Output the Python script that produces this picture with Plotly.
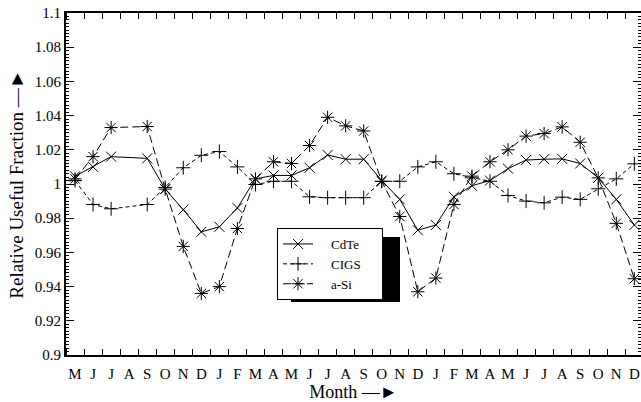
import plotly.graph_objects as go

months = ["M","J","J","A","S","O","N","D","J","F","M","A","M","J","J","A",
          "S","O","N","D","J","F","M","A","M","J","J","A","S","O","N","D"]
month_idx = list(range(len(months)))

cdte = [1.0045, 1.010, 1.016, None, 1.015, 0.997, 0.985, 0.972, 0.975, 0.986,
        1.003, 1.005, 1.005, 1.0095, 1.017, 1.0145, 1.0145, 1.002, 0.991, 0.973,
        0.976, 0.9925, 0.999, 1.002, 1.009, 1.014, 1.0145, 1.0147, 1.012, 1.0036,
        0.991, 0.976]
cigs = [1.002, 0.988, 0.9855, None, 0.988, 0.998, 1.0095, 1.0168, 1.019, 1.010,
        0.9997, 1.0016, 1.0016, 0.9925, 0.992, 0.992, 0.992, 1.0016, 1.0016, 1.010,
        1.013, 1.006, 1.0036, 1.0016, 0.9933, 0.990, 0.989, 0.9923, 0.991, 0.9972,
        1.003, 1.0118]
asi = [1.003, 1.016, 1.033, None, 1.0336, 0.997, 0.9635, 0.936, 0.940, 0.974,
       1.003, 1.013, 1.012, 1.0225, 1.039, 1.034, 1.031, 1.0015, 0.981, 0.937,
       0.945, 0.988, 1.0046, 1.013, 1.020, 1.028, 1.0295, 1.0334, 1.0244, 1.0036,
       0.977, 0.9446]

series_names = ["CdTe", "CIGS", "a-Si"]

ytickvals = [0.9, 0.92, 0.94, 0.96, 0.98, 1.0, 1.02, 1.04, 1.06, 1.08, 1.1]
yticktext = ["0.9", "0.92", "0.94", "0.96", "0.98", "1", "1.02", "1.04", "1.06", "1.08", "1.1"]

FONT = "Liberation Serif"
ARROW = " \u2014\u25BA"
PAD = "\u00a0" * 4

def lname(s):
    return PAD + s + PAD + "\u00a0"

fig = go.Figure()
fig.add_trace(go.Scatter(x=month_idx, y=cdte, name=lname(series_names[0]), mode="lines+markers",
                         connectgaps=True,
                         line=dict(color="black", width=1),
                         marker=dict(symbol="x-thin-open", size=10, color="black",
                                     line=dict(width=1, color="black"))))
fig.add_trace(go.Scatter(x=month_idx, y=cigs, name=lname(series_names[1]), mode="lines+markers",
                         connectgaps=True,
                         line=dict(color="black", width=1, dash="4px,3px"),
                         marker=dict(symbol="cross-thin-open", size=10, color="black",
                                     line=dict(width=1, color="black"))))
fig.add_trace(go.Scatter(x=month_idx, y=asi, name=lname(series_names[2]), mode="lines+markers",
                         connectgaps=True,
                         line=dict(color="black", width=1, dash="8px,4px"),
                         marker=dict(symbol="asterisk-open", size=11, color="black",
                                     line=dict(width=1, color="black"))))

L, R, T, B = 66, 641, 13, 355
W, H = 641, 402
pw, ph = R - L, B - T

def px(xp):
    return (xp - L) / pw

def py(yp):
    return (B - yp) / ph

fig.add_shape(type="rect", xref="paper", yref="paper",
              x0=px(291), x1=px(400), y0=py(302), y1=py(237),
              fillcolor="black", line=dict(width=0), layer="above")

fig.update_layout(
    width=W, height=H,
    margin=dict(l=L, r=W - R, t=T, b=H - B, autoexpand=False),
    paper_bgcolor="white", plot_bgcolor="white",
    font=dict(family=FONT, color="black", size=15),
    showlegend=True,
    legend=dict(x=px(277), y=py(228), xanchor="left", yanchor="top",
                bgcolor="white", bordercolor="black", borderwidth=1,
                font=dict(family=FONT, size=13), tracegroupgap=0),
    xaxis=dict(range=[-0.5, 31.37], tickmode="array", tickvals=month_idx,
               ticktext=months, ticks="", showgrid=False, zeroline=False,
               showline=True, linewidth=2, linecolor="black", mirror="ticks",
               automargin=False,
               tickfont=dict(family=FONT, size=15), ticklabelstandoff=4,
               minor=dict(tickmode="linear", tick0=0.5, dtick=1, ticks="inside",
                          ticklen=6, tickwidth=1, tickcolor="black", showgrid=False),
               title=dict(text="Month" + ARROW, font=dict(family=FONT, size=18), standoff=14)),
    yaxis=dict(range=[0.9, 1.1], tickmode="array", tickvals=ytickvals,
               ticktext=yticktext, ticks="inside", ticklen=8, tickwidth=1,
               tickcolor="black", showgrid=False, zeroline=False,
               showline=True, linewidth=2, linecolor="black", mirror="ticks",
               automargin=False,
               tickfont=dict(family=FONT, size=15),
               minor=dict(tickmode="linear", tick0=0.9, dtick=0.002, ticks="inside",
                          ticklen=3, tickwidth=1, tickcolor="black", showgrid=False),
               title=dict(text="Relative Useful Fraction" + ARROW,
                          font=dict(family=FONT, size=19), standoff=6)),
)

fig.write_html("out.html")
